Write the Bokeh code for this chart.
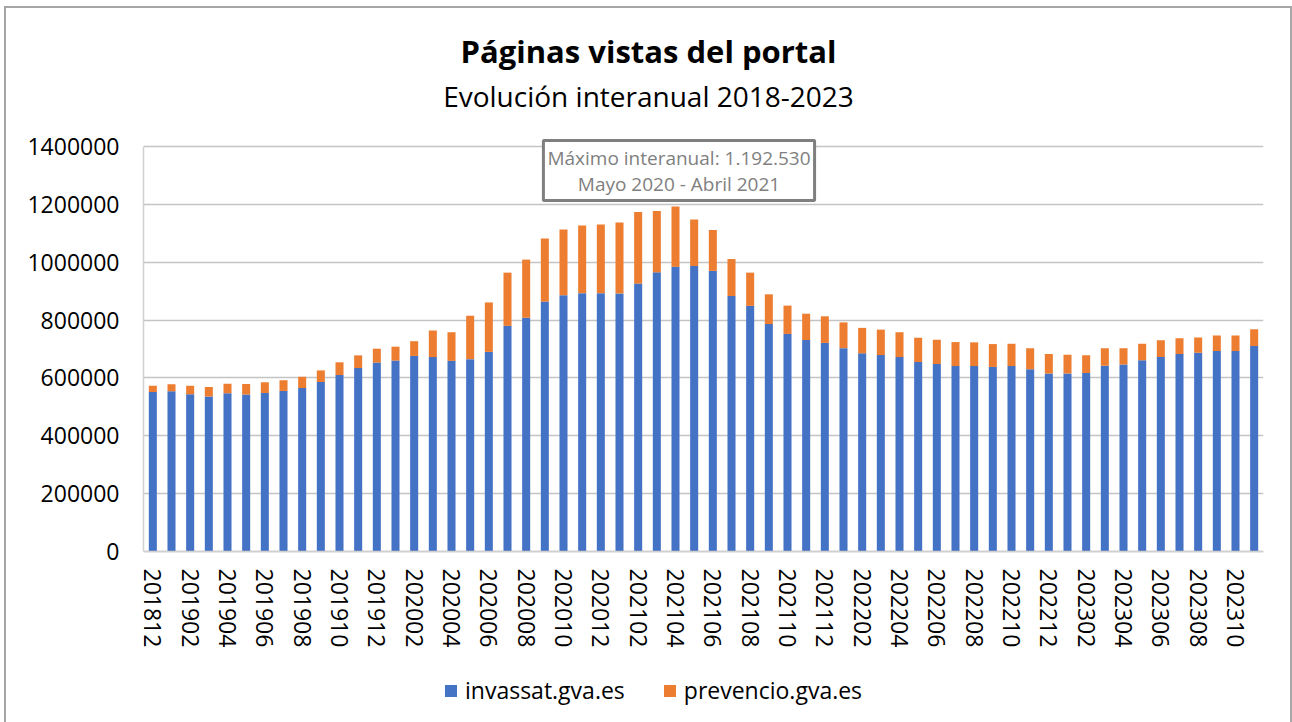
from bokeh.plotting import figure
from bokeh.models import (ColumnDataSource, Range1d, FixedTicker, Label, Legend, LegendItem,
                          BasicTickFormatter)
from bokeh.embed import file_html
from bokeh.resources import INLINE

# ---------------- data ----------------
periods = [
    "201812", "201901", "201902", "201903", "201904", "201905", "201906", "201907",
    "201908", "201909", "201910", "201911", "201912", "202001", "202002", "202003",
    "202004", "202005", "202006", "202007", "202008", "202009", "202010", "202011",
    "202012", "202101", "202102", "202103", "202104", "202105", "202106", "202107",
    "202108", "202109", "202110", "202111", "202112", "202201", "202202", "202203",
    "202204", "202205", "202206", "202207", "202208", "202209", "202210", "202211",
    "202212", "202301", "202302", "202303", "202304", "202305", "202306", "202307",
    "202308", "202309", "202310", "202311",
]
invassat = [
    551000, 554000, 544000, 536000, 547000, 543000, 548000, 555000, 565000, 586000,
    610000, 634000, 653000, 660000, 676000, 672000, 659000, 665000, 690000, 780000,
    808000, 864000, 886000, 893000, 893000, 892000, 926000, 965000, 984000, 987000,
    970000, 883000, 849000, 786000, 752000, 731000, 721000, 703000, 685000, 679000,
    672000, 655000, 648000, 641000, 641000, 638000, 641000, 630000, 615000, 615000,
    617000, 642000, 646000, 661000, 672000, 683000, 687000, 693000, 693000, 710000,
]
prevencio = [
    22000, 24000, 29000, 33000, 33000, 36000, 37000, 37000, 39000, 40000,
    44000, 44000, 48000, 48000, 51000, 92000, 99000, 150000, 171000, 184000,
    201000, 218000, 227000, 234000, 237000, 245000, 248000, 212000, 208530, 161000,
    141000, 128000, 115000, 103000, 98000, 91000, 92000, 89000, 88000, 88000,
    86000, 84000, 84000, 83000, 82000, 79000, 77000, 73000, 68000, 65000,
    61000, 61000, 57000, 57000, 58000, 54000, 53000, 54000, 54000, 58000,
]
series_names = ["invassat.gva.es", "prevencio.gva.es"]
y_ticks = [0, 200000, 400000, 600000, 800000, 1000000, 1200000, 1400000]
title_text = "Páginas vistas del portal"
subtitle_text = "Evolución interanual 2018-2023"
note_text = "Máximo interanual: 1.192.530\nMayo 2020 - Abril 2021"
max_index = 28

FONT = "Open Sans"
BLUE = "#4472C4"
ORANGE = "#ED7D31"

# ---------------- layout (window pixels) ----------------
ORIGIN_X, ORIGIN_Y = 6, 8          # canvas origin inside the window
FRAME_L, FRAME_R = 143, 1263       # plot area horizontal extent
FRAME_T, AXIS_TOP, ZERO_Y, FRAME_B = 20, 146, 551, 722
YMAX_TICK = y_ticks[-1]
px_per_val = (ZERO_Y - AXIS_TOP) / YMAX_TICK
y_end = (ZERO_Y - FRAME_T) / px_per_val
y_start = (ZERO_Y - FRAME_B) / px_per_val


def ydata(py):
    return (ZERO_Y - py) / px_per_val


def xdata(px):
    return (px - FRAME_L) / ((FRAME_R - FRAME_L) / len(periods)) - 0.5


idx = list(range(len(periods)))
source = ColumnDataSource(dict(x=idx, invassat=invassat, prevencio=prevencio))

p = figure(frame_width=FRAME_R - FRAME_L, frame_height=FRAME_B - FRAME_T,
           output_backend="svg", toolbar_location=None, title=None,
           x_range=Range1d(-0.5, len(periods) - 0.5), y_range=Range1d(y_start, y_end),
           min_border_left=FRAME_L - ORIGIN_X, min_border_right=1290 - FRAME_R,
           min_border_top=FRAME_T - ORIGIN_Y, min_border_bottom=0)
p.styles = {"border-left": "2px solid #a6a6a6", "border-top": "2px solid #a6a6a6",
            "border-right": "2px solid #a6a6a6", "margin-left": "4px",
            "margin-top": "6px"}
p.outline_line_color = None
p.background_fill_color = "white"
p.border_fill_color = "white"

rs = p.vbar_stack(["invassat", "prevencio"], x="x", width=0.43, source=source,
                  color=[BLUE, ORANGE], line_color=None)

# axes
p.xaxis.fixed_location = 0
p.xaxis.ticker = FixedTicker(ticks=idx[::2])
p.xaxis.major_label_overrides = {i: periods[i] for i in idx[::2]}
p.xaxis.major_label_orientation = "vertical"
p.yaxis.ticker = FixedTicker(ticks=y_ticks)
p.yaxis.formatter = BasicTickFormatter(use_scientific=False)
p.yaxis.bounds = (0, YMAX_TICK)
for ax in (p.xaxis, p.yaxis):
    ax.major_tick_line_color = None
    ax.major_tick_out = 0
    ax.major_tick_in = 0
    ax.minor_tick_line_color = None
    ax.minor_tick_out = 0
    ax.axis_line_color = "#d0d0d0"
    ax.axis_line_width = 1.5
    ax.major_label_text_font = FONT
    ax.major_label_text_font_size = "23px"
    ax.major_label_text_color = "#000000"
p.xaxis.major_label_standoff = 17
p.yaxis.major_label_standoff = 24
p.xgrid.grid_line_color = None
p.ygrid.grid_line_color = "#c4c4c4"
p.ygrid.grid_line_width = 1.5

# title / subtitle
p.add_layout(Label(x=xdata(648), y=ydata(50), text=title_text, text_align="center",
                   text_baseline="alphabetic", text_font=FONT, text_font_style="bold",
                   text_font_size="31px", text_color="#000000"))
p.add_layout(Label(x=xdata(648), y=ydata(95), text=subtitle_text, text_align="center",
                   text_baseline="alphabetic", text_font=FONT,
                   text_font_size="28px", text_color="#000000"))

# annotation box
p.add_layout(Label(x=xdata(678.5), y=ydata(170), text=note_text, text_align="center",
                   text_baseline="middle", text_font=FONT, text_font_size="19px",
                   text_line_height=1.0,
                   text_color="#808080", background_fill_color="white",
                   border_line_color="#7f7f7f", border_line_width=3, padding=4))

# legend (inside the extended frame, below the category labels)
legend = Legend(items=[LegendItem(label=series_names[0], renderers=[rs[0]]),
                       LegendItem(label=series_names[1], renderers=[rs[1]])],
                orientation="horizontal", location=(443 - FRAME_L, FRAME_B - 706),
                glyph_width=15, glyph_height=15, label_standoff=7, spacing=37,
                padding=0, margin=0, border_line_color=None,
                background_fill_alpha=0,
                label_text_font=FONT, label_text_font_size="23px",
                label_text_color="#000000")
p.add_layout(legend, "center")

open("out.html", "w").write(file_html(p, INLINE))
